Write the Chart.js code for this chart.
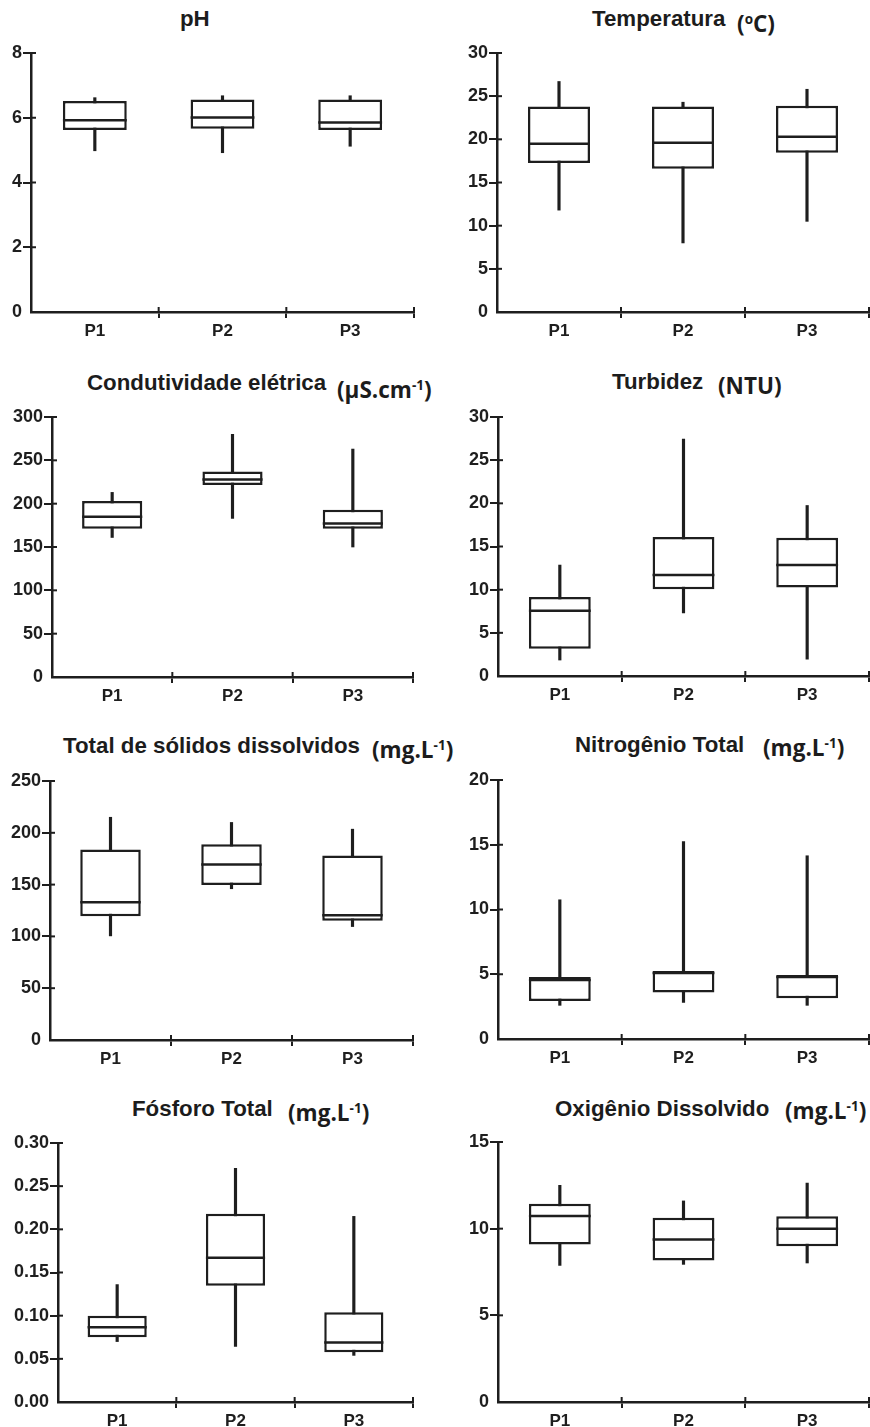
<!DOCTYPE html>
<html>
<head>
<meta charset="utf-8">
<script src="https://cdn.jsdelivr.net/npm/chart.js@4.4.1/dist/chart.umd.min.js"></script>
<style>
  body { margin: 0; background: #fff; }
  #page { position: relative; width: 870px; height: 1427px; overflow: hidden; }
  .box { position: absolute; }
  .t { position: absolute; font: bold 22.3px "Liberation Sans", Arial, sans-serif; color: #1c1c1c; white-space: nowrap; line-height: 1; }
  .u { position: absolute; font: bold 22.5px "Open Sans", sans-serif; color: #1c1c1c; white-space: nowrap; line-height: 1; }
  .u sup { font-size: 0.6em; vertical-align: 0; position: relative; top: -0.6em; }
</style>
</head>
<body>
<div id="page"></div>
<script>
const stations = ["P1", "P2", "P3"];

// [min, Q1, mediana, Q3, max] por ponto
const ph = [[4.98, 5.62, 5.92, 6.52, 6.62], [4.92, 5.66, 6.01, 6.56, 6.68], [5.12, 5.62, 5.85, 6.56, 6.68]];
const temperatura = [[11.8, 17.25, 19.5, 23.8, 26.7], [8.0, 16.6, 19.6, 23.8, 24.3], [10.5, 18.45, 20.3, 23.9, 25.8]];
const condutividade = [[161, 171, 185, 203, 213], [183, 221.5, 228, 237, 280], [150, 171, 177, 193, 263]];
const turbidez = [[1.85, 3.15, 7.55, 9.15, 12.85], [7.3, 10.05, 11.7, 16.1, 27.45], [1.95, 10.25, 12.85, 16.0, 19.75]];
const solidos = [[100.5, 119.5, 133, 184, 215], [146, 149.5, 169.5, 189, 210], [109.5, 115, 120.5, 178, 203.5]];
const nitrogenio = [[2.6, 2.93, 4.55, 4.78, 10.75], [2.83, 3.6, 5.1, 5.25, 15.25], [2.6, 3.14, 4.78, 4.95, 14.15]];
const fosforo = [[0.070, 0.075, 0.0865, 0.100, 0.136], [0.0645, 0.1347, 0.1672, 0.218, 0.2707], [0.054, 0.0575, 0.069, 0.104, 0.215]];
const oxigenio = [[7.88, 9.08, 10.73, 11.44, 12.5], [7.94, 8.17, 9.37, 10.63, 11.6], [8.02, 8.98, 10.0, 10.71, 12.63]];

const yMax = [8, 30, 300, 30, 250, 20, 0.30, 15];
const yStep = [2, 5, 50, 5, 50, 5, 0.05, 5];
const yDecimals = [0, 0, 0, 0, 0, 0, 2, 0];

const ink = "#1e1e1e";
const page = document.getElementById("page");

// area do grafico de cada painel: [left, top, right, bottom]
const panels = [
  { data: ph, area: [31, 53, 414, 312] },
  { data: temperatura, area: [497, 53, 869, 312] },
  { data: condutividade, area: [52, 417, 413, 677] },
  { data: turbidez, area: [498, 417, 869, 676] },
  { data: solidos, area: [50, 781, 413, 1040] },
  { data: nitrogenio, area: [498, 780, 869, 1039] },
  { data: fosforo, area: [58, 1143, 413, 1402] },
  { data: oxigenio, area: [498, 1142, 869, 1402] }
];

const titles = [
  { x: 180, y: 27, text: "pH" },
  { x: 592, y: 27, text: "Temperatura", ux: 737, uy: 33, unit: "(<sup>o</sup>C)" },
  { x: 87, y: 391, text: "Condutividade elétrica", ux: 337, uy: 399, unit: "(µS.cm<sup>-1</sup>)" },
  { x: 612, y: 390, text: "Turbidez", ux: 718, uy: 395, unit: "(NTU)" },
  { x: 63, y: 754, text: "Total de sólidos dissolvidos", ux: 372, uy: 759, unit: "(mg.L<sup>-1</sup>)" },
  { x: 575, y: 753, text: "Nitrogênio Total", ux: 763, uy: 757, unit: "(mg.L<sup>-1</sup>)" },
  { x: 132, y: 1117, text: "Fósforo Total", ux: 288, uy: 1122, unit: "(mg.L<sup>-1</sup>)" },
  { x: 555, y: 1117, text: "Oxigênio Dissolvido", ux: 785, uy: 1120, unit: "(mg.L<sup>-1</sup>)" }
];

titles.forEach(t => {
  const m = document.createElement("div");
  m.className = "t";
  m.style.left = t.x + "px";
  m.style.top = (t.y - 19) + "px";
  m.textContent = t.text;
  page.appendChild(m);
  if (t.unit) {
    const u = document.createElement("div");
    u.className = "u";
    u.style.left = t.ux + "px";
    u.style.top = (t.uy - 20) + "px";
    u.innerHTML = t.unit;
    page.appendChild(u);
  }
});

// linha da mediana sobre cada caixa + parte interna dos ticks
const boxExtras = {
  id: "boxExtras",
  afterDatasetsDraw(chart, args, opts) {
    const meta = chart.getDatasetMeta(0);
    const x = chart.scales.x;
    const y = chart.scales.y;
    const area = chart.chartArea;
    const ctx = chart.ctx;
    ctx.save();
    ctx.strokeStyle = ink;
    ctx.lineWidth = 2.5;
    meta.data.forEach((bar, i) => {
      const { x: bx, width } = bar.getProps(["x", "width"], true);
      const py = y.getPixelForValue(opts.values[i]);
      ctx.beginPath();
      ctx.moveTo(bx - width / 2, py);
      ctx.lineTo(bx + width / 2, py);
      ctx.stroke();
    });
    ctx.lineWidth = 2;
    y.ticks.forEach(tk => {
      if (tk.value === 0) return;
      const py = y.getPixelForValue(tk.value);
      ctx.beginPath();
      ctx.moveTo(area.left, py);
      ctx.lineTo(area.left + 5, py);
      ctx.stroke();
    });
    const half = (x.getPixelForValue(1) - x.getPixelForValue(0)) / 2;
    stations.forEach((s, i) => {
      const px = x.getPixelForValue(i) + half;
      ctx.beginPath();
      ctx.moveTo(px, area.bottom - 5);
      ctx.lineTo(px, area.bottom);
      ctx.stroke();
    });
    ctx.restore();
  }
};

const padTop = 14;
const xAxisH = 34;

panels.forEach((p, idx) => {
  const [l, t, r, b] = p.area;
  const col = l > 435 ? 1 : 0;
  const cl = col * 435;
  const cw = 435;
  const div = document.createElement("div");
  div.className = "box";
  div.style.left = cl + "px";
  div.style.top = (t - padTop) + "px";
  div.style.width = cw + "px";
  div.style.height = (b - t + padTop + xAxisH) + "px";
  const canvas = document.createElement("canvas");
  div.appendChild(canvas);
  page.appendChild(div);

  new Chart(canvas, {
    type: "bar",
    data: {
      labels: stations,
      datasets: [
        {
          label: "caixa",
          data: p.data.map(s => [s[1], s[3]]),
          backgroundColor: "#fff",
          borderColor: ink,
          borderWidth: 2.5,
          borderSkipped: false,
          barPercentage: 0.5,
          categoryPercentage: 1,
          grouped: false
        },
        {
          label: "bigodes",
          data: p.data.map(s => [s[0], s[4]]),
          backgroundColor: ink,
          barThickness: 2.5,
          grouped: false
        }
      ]
    },
    options: {
      responsive: true,
      maintainAspectRatio: false,
      animation: false,
      layout: { padding: { top: padTop, left: 0, bottom: 0, right: cl + cw - r } },
      plugins: {
        legend: { display: false },
        tooltip: { enabled: false },
        boxExtras: { values: p.data.map(s => s[2]) }
      },
      scales: {
        x: {
          offset: true,
          afterFit: s => { s.height = xAxisH; },
          grid: {
            offset: true,
            drawOnChartArea: false,
            tickLength: 6,
            lineWidth: 2,
            color: c => c.index === 0 ? "rgba(0,0,0,0)" : ink
          },
          border: { color: ink, width: 2.5 },
          ticks: { color: ink, padding: 3, font: { family: "Liberation Sans, Arial, sans-serif", size: 17, weight: "bold" } }
        },
        y: {
          min: 0,
          max: yMax[idx],
          afterFit: s => { s.width = l - cl; },
          grid: {
            drawOnChartArea: false,
            tickLength: 8,
            lineWidth: 2,
            color: c => c.tick && c.tick.value === 0 ? "rgba(0,0,0,0)" : ink
          },
          border: { color: ink, width: 2.5 },
          ticks: {
            stepSize: yStep[idx],
            color: ink,
            padding: 1,
            font: { family: "Liberation Sans, Arial, sans-serif", size: 18, weight: "bold" },
            callback: v => Number(v).toFixed(yDecimals[idx])
          }
        }
      }
    },
    plugins: [boxExtras]
  });
});
</script>
</body>
</html>
